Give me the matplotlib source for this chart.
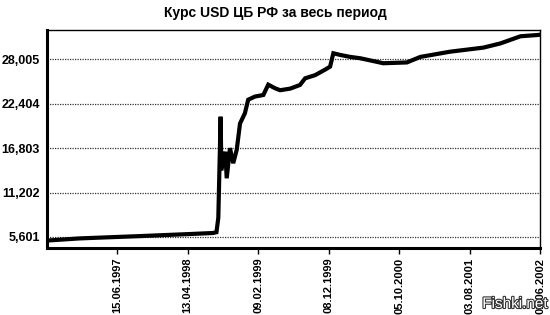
import matplotlib
matplotlib.use('Agg')
import matplotlib.pyplot as plt
import matplotlib.dates as mdates
import matplotlib.patheffects as pe
from matplotlib.ticker import FuncFormatter
import pandas as pd

# ------ data ------
dates = ['1996-08-18', '1997-01-05', '1997-09-19', '1998-04-22', '1998-07-30',
         '1998-08-14', '1998-08-22', '1998-09-01', '1998-09-04', '1998-09-21',
         '1998-09-27', '1998-10-11', '1998-10-25', '1998-11-09', '1998-11-23',
         '1998-12-14', '1998-12-28', '1999-01-26', '1999-03-03', '1999-03-24',
         '1999-04-22', '1999-05-14', '1999-06-26', '1999-08-07', '1999-08-29',
         '1999-10-11', '1999-11-23', '1999-12-14', '1999-12-28', '2000-01-26',
         '2000-03-09', '2000-04-21', '2000-07-29', '2000-11-07', '2001-01-04',
         '2001-05-12', '2001-10-01', '2001-12-13', '2002-03-09', '2002-05-25',
         '2002-06-01']
rate = [5.15, 5.42, 5.71, 5.97, 6.10,
        6.20, 8.00, 20.76, 14.0, 16.35,
        13.0, 16.8, 14.9, 16.6, 19.9,
        21.2, 22.9, 23.3, 23.5, 24.8,
        24.35, 24.1, 24.3, 24.76, 25.6,
        26.0, 26.7, 27.07, 28.76, 28.55,
        28.3, 28.13, 27.5, 27.6, 28.3,
        28.96, 29.47, 30.0, 30.9, 31.07,
        31.1]

ytick_vals = [5.601, 11.202, 16.803, 22.404, 28.005]
xtick_dates = ['1997-06-15', '1998-04-13', '1999-02-09', '1999-12-08',
               '2000-10-05', '2001-08-03', '2002-06-01']
title = 'Курс USD ЦБ РФ за весь период'

x = pd.to_datetime(dates)

fig = plt.figure(figsize=(5.5, 3.15), dpi=100)
ax = fig.add_axes([0.0855, 0.2127, 0.8965, 0.6923])

ax.plot(x, rate, color='black', lw=3.0, solid_joinstyle='miter')

ax.set_xlim(pd.Timestamp('1996-08-18'), pd.Timestamp('2002-06-01'))
ax.set_ylim(4.21, 31.7)

ax.set_yticks(ytick_vals)
ax.yaxis.set_major_formatter(FuncFormatter(lambda v, p: ('%.3f' % v).replace('.', ',')))
ax.set_xticks(pd.to_datetime(xtick_dates))
ax.xaxis.set_major_formatter(mdates.DateFormatter('%d.%m.%Y'))

for lab in ax.get_yticklabels():
    lab.set_fontweight('bold')
    lab.set_fontsize(9)
    lab.set_family('Liberation Sans')
for lab in ax.get_xticklabels():
    lab.set_rotation(90)
    lab.set_fontsize(8)
    lab.set_fontweight('bold')
    lab.set_family('Liberation Sans')

ax.tick_params(axis='y', length=0, pad=5)
ax.tick_params(axis='x', length=4, width=1, direction='out', pad=3)

ax.grid(axis='y', color='#333333', lw=0.9, ls=(0, (1, 1)))
ax.set_axisbelow(True)

ax.spines['left'].set_linewidth(2.2)
ax.spines['bottom'].set_linewidth(2.2)
ax.spines['top'].set_linewidth(1.0)
ax.spines['right'].set_linewidth(1.0)

fig.text(0.5, 0.958, title, ha='center', va='center', fontsize=10,
         fontweight='bold', family='Liberation Sans')

# watermark in the corner, drawn over the last tick label as in the source
fig.text(0.995, 0.035, 'Fishki.net', ha='right', va='center', fontsize=11,
         color='white', family='Liberation Sans', zorder=10,
         path_effects=[pe.withStroke(linewidth=1.6, foreground='#333333')])

fig.savefig('out.png', dpi=100)
